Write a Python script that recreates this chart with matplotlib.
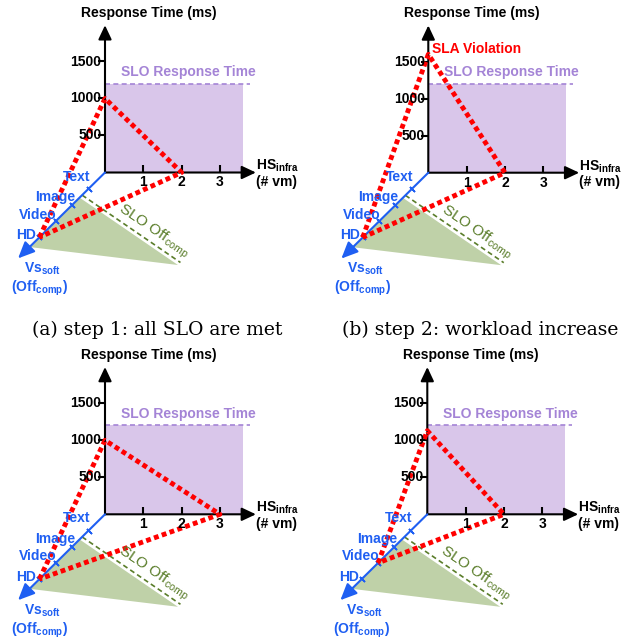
import matplotlib
matplotlib.use("Agg")
import matplotlib.pyplot as plt
import matplotlib.transforms as mtransforms
from matplotlib.patches import Polygon, Rectangle

plt.rcParams['font.family'] = 'Liberation Sans'
plt.rcParams['mathtext.fontset'] = 'custom'
plt.rcParams['mathtext.rm'] = 'Liberation Sans'
plt.rcParams['mathtext.bf'] = 'Liberation Sans:bold'

# --- data ---
vs_levels = ["Text", "Image", "Video", "HD"]
vs_depth = [1, 2, 3, 4]
rt_ticks = [500, 1000, 1500]
vm_ticks = [1, 2, 3]
slo_rt = 1200
slo_vm_end = 3.6

# one entry per panel: response time peak, number of vm, software level
panel_rt = [1000, 1600, 1000, 1130]
panel_vm = [2, 2, 3, 2]
panel_vs = ["HD", "HD", "HD", "Video"]
captions = ["(a) step 1: all SLO are met", "(b) step 2: workload increase"]

# SLO Off_comp area on the floor (vm, depth)
off_vm = [0, 0, 4.35]
off_depth = [1.55, 4.6, 5.71]

# --- styles ---
PURPLE_FILL = "#d9c6ea"
PURPLE = "#a484d6"
GREEN_FILL = "#bfd1a8"
GREEN = "#5a7d2a"
BLUE = "#1f5ff2"
RED = "#ff0000"

W, H = 623, 639
PX_VM = 38.3      # pixels per vm
PX_MS = 0.074     # pixels per ms
DX, DY = 16.4, 16.2  # pixels per software level (depth)

origins = [(105, 172.5), (428.3, 172.7), (105, 514.3), (427.3, 514.3)]
label_off = [(1.5, -12), (3, -8), (1, -6.5), (-3, -2.5)]


def proj(vm, rt, depth):
    return vm - depth * DX / PX_VM, rt - depth * DY / PX_MS


def px(dx, dy):
    # pixel offset from origin (y down) -> data coords
    return dx / PX_VM, -dy / PX_MS


fig = plt.figure(figsize=(W / 100, H / 100), dpi=100)


def draw_panel(ax, i):
    ax.set_xlim(-105 / PX_VM, 205 / PX_VM)
    ax.set_ylim(-124 / PX_MS, 170 / PX_MS)
    ax.axis("off")

    # SLO response time area
    ax.add_patch(Rectangle((0, 0), slo_vm_end, slo_rt, fc=PURPLE_FILL, ec="none", zorder=1))
    ax.plot([0, 3.78], [slo_rt, slo_rt], color=PURPLE, lw=1.2, ls=(0, (3, 2)), zorder=2)
    ax.text(*px(83, -100.5), "SLO Response Time", color=PURPLE, fontsize=10,
            fontweight="bold", ha="center", va="center", zorder=5)

    # SLO Off_comp area
    pts = [proj(v, 0, d) for v, d in zip(off_vm, off_depth)]
    ax.add_patch(Polygon(pts, closed=True, fc=GREEN_FILL, ec="none", zorder=1))
    off_tr = mtransforms.offset_copy(ax.transData, fig=fig, x=2.5, y=2.5, units="dots")
    ax.plot([pts[0][0], pts[2][0]], [pts[0][1], pts[2][1]], color=GREEN, lw=1.2,
            ls=(0, (3, 2)), transform=off_tr, zorder=2)
    ax.text(*px(49, 59), r"SLO Off$_{\mathrm{comp}}$", color=GREEN, fontsize=11,
            rotation=-34, ha="center", va="center", rotation_mode="anchor", zorder=5)

    # black axes
    arrow = dict(arrowstyle="-|>,head_length=0.85,head_width=0.4", lw=1.5,
                 color="black", mutation_scale=10, shrinkA=0, shrinkB=0)
    ax.annotate("", xy=(0, 1990), xytext=(0, 0), arrowprops=arrow, zorder=3)
    ax.annotate("", xy=(3.94, 0), xytext=(0, 0), arrowprops=arrow, zorder=3)
    ax.plot([0] * len(rt_ticks), rt_ticks, ls="none", marker=0, ms=5, mew=1.5,
            color="black", zorder=3)
    ax.plot(vm_ticks, [0] * len(vm_ticks), ls="none", marker=2, ms=5, mew=1.5,
            color="black", zorder=3)
    for t in rt_ticks:
        ax.annotate(str(t), (0, t), xytext=(-2.5, 0), textcoords="offset points",
                    ha="right", va="center", fontsize=10, fontweight="bold", zorder=5)
    for t in vm_ticks:
        ax.annotate(str(t), (t, 0), xytext=(0, -7.2), textcoords="offset points",
                    ha="center", va="center", fontsize=10, fontweight="bold", zorder=5)
    ax.text(*px(43.5, -159.5), "Response Time (ms)", fontsize=10, fontweight="bold",
            ha="center", va="center", zorder=5)
    ax.text(*px(150.5, -2.5), r"$\mathbf{HS_{infra}}$", fontsize=10,
            ha="left", va="baseline", zorder=5)
    ax.text(*px(171, 9.5), "(# vm)", fontsize=10, fontweight="bold",
            ha="center", va="center", zorder=5)

    # blue software axis
    tip = proj(0, 0, 5.3)
    barrow = dict(arrow, color=BLUE, arrowstyle="-|>,head_length=1.0,head_width=0.45")
    ax.annotate("", xy=tip, xytext=(0, 0), arrowprops=barrow, zorder=3)
    tick_pts = [proj(0, 0, d) for d in vs_depth]
    ax.plot([p[0] for p in tick_pts], [p[1] for p in tick_pts], ls="none",
            marker=(2, 2, 45), ms=5, mew=1.2, color=BLUE, zorder=3)
    for lab, p, off in zip(vs_levels, tick_pts, label_off):
        ax.annotate(lab, p, xytext=(off[0] * 0.72, -off[1] * 0.72),
                    textcoords="offset points", ha="right", va="center",
                    color=BLUE, fontsize=10, fontweight="bold", zorder=5)
    ax.annotate(r"$\mathbf{Vs_{soft}}$", tip, xytext=(24 * 0.72, -10.5 * 0.72),
                textcoords="offset points", ha="center", va="center",
                color=BLUE, fontsize=10, zorder=5)
    ax.annotate(r"$\mathbf{(Off_{comp})}$", tip, xytext=(21 * 0.72, -30 * 0.72),
                textcoords="offset points", ha="center", va="center",
                color=BLUE, fontsize=10, zorder=5)

    # current configuration (red dotted triangle)
    d = vs_depth[vs_levels.index(panel_vs[i])]
    base = proj(0, 0, d)
    xs = [base[0], 0, panel_vm[i], base[0]]
    ys = [base[1], panel_rt[i], 0, base[1]]
    ax.plot(xs, ys, color=RED, lw=3.5, ls=(0, (1, 0.7)), dash_capstyle="butt",
            solid_joinstyle="miter", zorder=4)
    if panel_rt[i] > slo_rt:
        ax.text(*px(3.4, -123.4), "SLA Violation", color=RED, fontsize=10,
                fontweight="bold", ha="left", va="center", zorder=5)


for i, (ox, oy) in enumerate(origins):
    ax = fig.add_axes([(ox - 105) / W, 1 - (oy + 124) / H, 310 / W, 294 / H])
    draw_panel(ax, i)

fig.text(157 / W, 1 - 330 / H, captions[0], family="DejaVu Serif", fontsize=13.5,
         ha="center", va="center")
fig.text(480 / W, 1 - 330 / H, captions[1], family="DejaVu Serif", fontsize=13.5,
         ha="center", va="center")

fig.savefig("out.png", dpi=100)
